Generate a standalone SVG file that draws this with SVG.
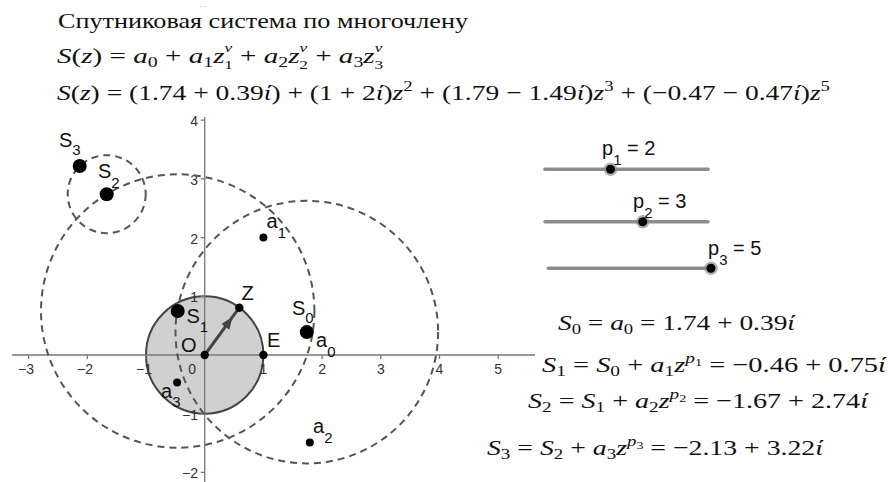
<svg xmlns="http://www.w3.org/2000/svg" width="888" height="482" viewBox="0 0 888 482">
<style>
.ax{stroke:#777;stroke-width:1.3;fill:none}
.tk{font-family:"Liberation Sans",Arial,sans-serif;font-size:14px;fill:#333}
.dash{fill:none;stroke:#555;stroke-width:2;stroke-dasharray:7 5}
.lbl{font-family:"Liberation Sans",Arial,sans-serif;font-size:20px;fill:#111}
.ls{font-size:15px}
.m{font-family:"Liberation Serif","Times New Roman",serif;font-size:22px;fill:#111}
.i{font-style:italic}
.s{font-size:15px}
.s2{font-size:13px}
.ss{font-size:11px}
.sl{stroke:#8c8c8c;stroke-width:3.5;stroke-linecap:round}
.halo{fill:#888;opacity:.65}
</style>
<rect width="888" height="482" fill="#fff"/>
<text x="203" y="7" font-family="Liberation Sans,sans-serif" font-size="8" fill="#999" text-anchor="middle">…</text>
<g id="title">
<text class="m" x="58" y="28" font-size="20" textLength="410" lengthAdjust="spacingAndGlyphs">Спутниковая система по многочлену</text>
<text class="m" x="57" y="63" textLength="326" lengthAdjust="spacingAndGlyphs"><tspan class="i">S</tspan>(<tspan class="i">z</tspan>) = <tspan class="i">a</tspan><tspan class="s" dy="4">0</tspan><tspan dy="-4"> + </tspan><tspan class="i">a</tspan><tspan class="s" dy="4">1</tspan><tspan class="i" dy="-4">z</tspan><tspan class="s2 i" dy="-11">v</tspan><tspan class="s2" dx="-6" dy="17">1</tspan><tspan dy="-6"> + </tspan><tspan class="i">a</tspan><tspan class="s" dy="4">2</tspan><tspan class="i" dy="-4">z</tspan><tspan class="s2 i" dy="-11">v</tspan><tspan class="s2" dx="-6" dy="17">2</tspan><tspan dy="-6"> + </tspan><tspan class="i">a</tspan><tspan class="s" dy="4">3</tspan><tspan class="i" dy="-4">z</tspan><tspan class="s2 i" dy="-11">v</tspan><tspan class="s2" dx="-6" dy="17">3</tspan></text>
<text class="m" x="57" y="100" textLength="773" lengthAdjust="spacingAndGlyphs"><tspan class="i">S</tspan>(<tspan class="i">z</tspan>) = (1.74 + 0.39<tspan class="i">ί</tspan>) + (1 + 2<tspan class="i">ί</tspan>)<tspan class="i">z</tspan><tspan class="s" dy="-9">2</tspan><tspan dy="9"> + (1.79 − 1.49</tspan><tspan class="i">ί</tspan>)<tspan class="i">z</tspan><tspan class="s" dy="-9">3</tspan><tspan dy="9"> + (−0.47 − 0.47</tspan><tspan class="i">ί</tspan>)<tspan class="i">z</tspan><tspan class="s" dy="-9">5</tspan></text>
</g>
<g id="unit-circle"><circle cx="204.7" cy="355" r="58.7" fill="#d0d0d0" stroke="#444" stroke-width="2"/></g>
<g id="axes">
<line class="ax" x1="12" y1="355" x2="535" y2="355"/>
<line class="ax" x1="204.7" y1="117" x2="204.7" y2="482"/>
<path class="ax" d="M28.6 355v4M87.3 355v4M146 355v4M263.4 355v4M322.1 355v4M380.8 355v4M439.5 355v4M498.2 355v4M200.7 120.2h4M200.7 178.9h4M200.7 237.6h4M200.7 296.3h4M200.7 413.7h4M200.7 472.4h4"/>
<g class="tk" text-anchor="middle">
<text x="26" y="374">−3</text><text x="85" y="374">−2</text><text x="144" y="374">−1</text><text x="263.4" y="374">1</text><text x="322.1" y="374">2</text><text x="380.8" y="374">3</text><text x="439.5" y="374">4</text><text x="498.2" y="374">5</text>
</g>
<g class="tk" text-anchor="end">
<text x="196" y="374">0</text>
<text x="198" y="126">4</text><text x="198" y="185">3</text><text x="198" y="244">2</text><text x="198" y="302">1</text><text x="198" y="420">−1</text><text x="198" y="478">−2</text>
</g>
</g>
<g id="connectors">
<circle class="dash" cx="306.8" cy="332.1" r="131.3"/>
<circle class="dash" cx="177.7" cy="311" r="136.7"/>
<circle class="dash" cx="106.7" cy="194.2" r="39"/>
<line x1="204.7" y1="355" x2="239.3" y2="307.7" stroke="#444" stroke-width="3"/>
<polygon points="232.4,317.1 229.4,329.8 221.4,323.9" fill="#444"/>
</g>
<g id="O"><circle cx="204.7" cy="355" r="4.2"/><text class="lbl" x="181" y="352">O</text></g>
<g id="E"><circle cx="263.4" cy="355" r="4.2"/><text class="lbl" x="267" y="347">E</text></g>
<g id="Z"><circle cx="239.3" cy="307.7" r="4.2"/><text class="lbl" x="241.5" y="300">Z</text></g>
<g id="S0"><circle cx="306.8" cy="332.1" r="7"/><text class="lbl" x="292" y="315">S<tspan class="ls" dy="8">0</tspan></text></g>
<g id="a0"><text class="lbl" x="316" y="347">a<tspan class="ls" dy="10">0</tspan></text></g>
<g id="a1"><circle cx="263.4" cy="237.6" r="4"/><text class="lbl" x="266.5" y="228">a<tspan class="ls" dy="10">1</tspan></text></g>
<g id="a2"><circle cx="309.8" cy="442.5" r="4"/><text class="lbl" x="313" y="433">a<tspan class="ls" dy="10">2</tspan></text></g>
<g id="a3"><circle cx="177.1" cy="382.6" r="4"/><text class="lbl" x="161" y="398">a<tspan class="ls" dy="9">3</tspan></text></g>
<g id="S1"><circle cx="177.7" cy="311" r="7"/><text class="lbl" x="186.5" y="323">S<tspan class="ls" dy="9">1</tspan></text></g>
<g id="S2"><circle cx="106.7" cy="194.2" r="7"/><text class="lbl" x="98" y="178">S<tspan class="ls" dy="10">2</tspan></text></g>
<g id="S3"><circle cx="79.7" cy="166" r="7"/><text class="lbl" x="59" y="147">S<tspan class="ls" dy="8">3</tspan></text></g>
<g id="slider-p1"><line class="sl" x1="545" y1="169.3" x2="708" y2="169.3"/><circle class="halo" cx="610.5" cy="169.3" r="6.8"/><circle cx="610.5" cy="169.3" r="4.5"/><text class="lbl" x="602" y="155">p<tspan class="ls" dy="10">1</tspan><tspan dy="-10"> = 2</tspan></text></g>
<g id="slider-p2"><line class="sl" x1="545" y1="221.7" x2="708" y2="221.7"/><circle class="halo" cx="642.7" cy="221.7" r="6.8"/><circle cx="642.7" cy="221.7" r="4.5"/><text class="lbl" x="633" y="208">p<tspan class="ls" dy="10">2</tspan><tspan dy="-10"> = 3</tspan></text></g>
<g id="slider-p3"><line class="sl" x1="548.3" y1="268.3" x2="711" y2="268.3"/><circle class="halo" cx="711" cy="268.3" r="6.8"/><circle cx="711" cy="268.3" r="4.5"/><text class="lbl" x="708" y="255">p<tspan class="ls" dy="10">3</tspan><tspan dy="-10"> = 5</tspan></text></g>
<g id="formulas">
<text class="m" x="558" y="330" textLength="237" lengthAdjust="spacingAndGlyphs"><tspan class="i">S</tspan><tspan class="s" dy="4">0</tspan><tspan dy="-4"> = </tspan><tspan class="i">a</tspan><tspan class="s" dy="4">0</tspan><tspan dy="-4"> = 1.74 + 0.39</tspan><tspan class="i">ί</tspan></text>
<text class="m" x="542" y="372" textLength="344" lengthAdjust="spacingAndGlyphs"><tspan class="i">S</tspan><tspan class="s" dy="4">1</tspan><tspan dy="-4"> = </tspan><tspan class="i">S</tspan><tspan class="s" dy="4">0</tspan><tspan dy="-4"> + </tspan><tspan class="i">a</tspan><tspan class="s" dy="4">1</tspan><tspan class="i" dy="-4">z</tspan><tspan class="s i" dy="-9">p</tspan><tspan class="ss" dy="3">1</tspan><tspan dy="6"> = −0.46 + 0.75</tspan><tspan class="i">ί</tspan></text>
<text class="m" x="528" y="408" textLength="340" lengthAdjust="spacingAndGlyphs"><tspan class="i">S</tspan><tspan class="s" dy="4">2</tspan><tspan dy="-4"> = </tspan><tspan class="i">S</tspan><tspan class="s" dy="4">1</tspan><tspan dy="-4"> + </tspan><tspan class="i">a</tspan><tspan class="s" dy="4">2</tspan><tspan class="i" dy="-4">z</tspan><tspan class="s i" dy="-9">p</tspan><tspan class="ss" dy="3">2</tspan><tspan dy="6"> = −1.67 + 2.74</tspan><tspan class="i">ί</tspan></text>
<text class="m" x="487" y="455" textLength="336" lengthAdjust="spacingAndGlyphs"><tspan class="i">S</tspan><tspan class="s" dy="4">3</tspan><tspan dy="-4"> = </tspan><tspan class="i">S</tspan><tspan class="s" dy="4">2</tspan><tspan dy="-4"> + </tspan><tspan class="i">a</tspan><tspan class="s" dy="4">3</tspan><tspan class="i" dy="-4">z</tspan><tspan class="s i" dy="-9">p</tspan><tspan class="ss" dy="3">3</tspan><tspan dy="6"> = −2.13 + 3.22</tspan><tspan class="i">ί</tspan></text>
</g>
</svg>
